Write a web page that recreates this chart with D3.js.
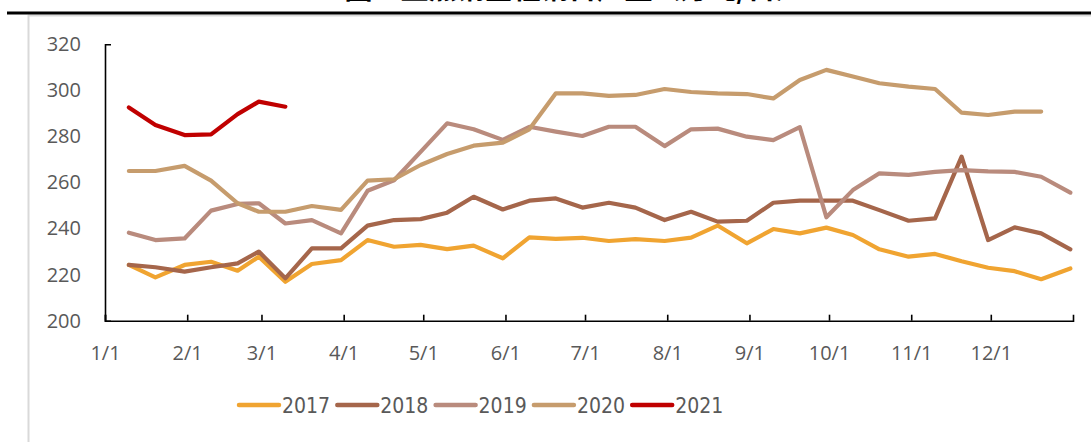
<!DOCTYPE html>
<html>
<head>
<meta charset="utf-8">
<script src="https://cdn.jsdelivr.net/npm/d3@7.9.0/dist/d3.min.js"></script>
<style>
  body { margin: 0; background: #fff; }
  svg { display: block; }
</style>
</head>
<body>
<div id="chart"></div>
<script>
// ten-day periods (旬) of the year
const periods = [
  '1/10', '1/20', '1/31', '2/10', '2/20', '2/28', '3/10', '3/20', '3/31',
  '4/10', '4/20', '4/30', '5/10', '5/20', '5/31', '6/10', '6/20', '6/30',
  '7/10', '7/20', '7/31', '8/10', '8/20', '8/31', '9/10', '9/20', '9/30',
  '10/10', '10/20', '10/31', '11/10', '11/20', '11/30', '12/10', '12/20', '12/31'
];

const years = ['2017', '2018', '2019', '2020', '2021'];
const colors = ['#F0A431', '#A5664B', '#B98B7D', '#C69C6D', '#C00000'];

const v2017 = [224.2, 218.8, 224.2, 225.6, 221.7, 227.8, 216.9, 224.6, 226.3,
  235.0, 232.1, 232.9, 231.1, 232.6, 227.1, 236.2, 235.5, 236.0,
  234.6, 235.4, 234.6, 236.1, 241.3, 233.6, 239.8, 237.9, 240.4,
  237.2, 231.0, 227.8, 229.0, 225.8, 223.0, 221.5, 218.0, 222.7];
const v2018 = [224.2, 223.2, 221.3, 223.2, 224.9, 230.0, 218.4, 231.4, 231.4,
  241.3, 243.7, 244.1, 246.9, 253.8, 248.3, 252.1, 253.1, 249.1,
  251.2, 249.1, 243.7, 247.3, 243.0, 243.4, 251.2, 252.1, 252.1,
  252.1, 248.0, 243.4, 244.4, 271.2, 235.0, 240.5, 237.9, 231.0];
const v2019 = [238.2, 235.0, 235.7, 247.8, 250.7, 251.0, 242.2, 243.7, 237.9,
  256.4, 261.0, 273.3, 285.7, 283.1, 278.5, 284.2, 282.1, 280.2,
  284.2, 284.2, 275.8, 283.1, 283.4, 279.9, 278.4, 284.0, 244.9,
  256.7, 264.0, 263.3, 264.6, 265.4, 264.8, 264.6, 262.5, 255.6];
const v2020 = [265.0, 265.0, 267.2, 260.8, 251.0, 247.3, 247.3, 249.8, 248.1,
  260.8, 261.4, 267.6, 272.4, 276.0, 277.3, 283.1, 298.7, 298.7,
  297.6, 298.0, 300.6, 299.3, 298.7, 298.4, 296.5, 304.5, 308.9,
  306.0, 303.1, 301.6, 300.6, 290.3, 289.3, 290.8, 290.8];
const v2021 = [292.6, 285.0, 280.6, 280.9, 289.7, 295.1, 292.9];

const yTicks = [200, 220, 240, 260, 280, 300, 320];
const monthTicks = ['1/1', '2/1', '3/1', '4/1', '5/1', '6/1', '7/1', '8/1', '9/1', '10/1', '11/1', '12/1'];

const title = '图：重点钢企粗钢日产量（万吨/日）';

// everything is placed on a common (non-leap) year
const toDate = (s) => {
  const [m, d] = s.split('/').map(Number);
  return new Date(2017, m - 1, d);
};

const seriesValues = [v2017, v2018, v2019, v2020, v2021];
const series = years.map((y, i) => ({
  year: y,
  color: colors[i],
  points: seriesValues[i].map((v, j) => ({ date: toDate(periods[j]), value: v })),
}));

const width = 1091;
const height = 442;

const svg = d3.select('#chart')
  .append('svg')
  .attr('width', width)
  .attr('height', height);

// frame + title (cut by the top edge, as in the source)
svg.append('text')
  .attr('x', 574)
  .attr('y', -1.2)
  .attr('text-anchor', 'middle')
  .attr('font-family', '"Noto Sans CJK SC", sans-serif')
  .attr('font-size', 28)
  .attr('font-weight', 'bold')
  .attr('fill', '#000')
  .text(title);

svg.append('line')
  .attr('x1', 28).attr('x2', width)
  .attr('y1', 15.5).attr('y2', 15.5)
  .attr('stroke', '#d9d9d9').attr('stroke-width', 2);
svg.append('line')
  .attr('x1', 28.5).attr('x2', 28.5)
  .attr('y1', 15).attr('y2', height)
  .attr('stroke', '#d9d9d9').attr('stroke-width', 2);
svg.append('line')
  .attr('x1', 7).attr('x2', width)
  .attr('y1', 13).attr('y2', 13)
  .attr('stroke', '#000').attr('stroke-width', 3);

// ----- Scales -----
const x = d3.scaleTime()
  .domain([new Date(2017, 0, 1), new Date(2018, 0, 1)])
  .range([105, 1073]);

const y = d3.scaleLinear()
  .domain([200, 320])
  .range([320.7, 44.3]);

// ----- Axes -----
const xAxis = d3.axisBottom(x)
  .tickValues(monthTicks.map(toDate))
  .tickSizeInner(-6)
  .tickSizeOuter(-6)
  .tickPadding(25)
  .tickFormat(d3.timeFormat('%-m/%-d'));

const yAxis = d3.axisLeft(y)
  .tickValues(yTicks)
  .tickSizeInner(0)
  .tickSizeOuter(-6)
  .tickPadding(24);

const gx = svg.append('g')
  .attr('transform', `translate(0,${y(200)})`)
  .call(xAxis);

const gy = svg.append('g')
  .attr('transform', `translate(${x(new Date(2017, 0, 1))},0)`)
  .call(yAxis);

[gx, gy].forEach((g) => {
  g.select('.domain').attr('stroke', '#000').attr('stroke-width', 1.6);
  g.selectAll('.tick line').attr('stroke', '#000').attr('stroke-width', 1.6);
  g.selectAll('.tick text')
    .attr('fill', '#595959')
    .attr('font-family', '"Open Sans", "Liberation Sans", sans-serif')
    .attr('font-size', 20);
});

// ----- Lines -----
const line = d3.line()
  .x((d) => x(d.date))
  .y((d) => y(d.value));

svg.append('g')
  .attr('class', 'lines')
  .selectAll('path')
  .data(series)
  .join('path')
  .attr('d', (d) => line(d.points))
  .attr('fill', 'none')
  .attr('stroke', (d) => d.color)
  .attr('stroke-width', 4.2)
  .attr('stroke-linejoin', 'round')
  .attr('stroke-linecap', 'round');

// ----- Legend -----
const legend = svg.append('g')
  .attr('class', 'legend')
  .attr('transform', 'translate(239,405)');

const item = legend.selectAll('g')
  .data(series)
  .join('g')
  .attr('transform', (d, i) => `translate(${i * 98.3},0)`);

item.append('line')
  .attr('x1', 0).attr('x2', 40)
  .attr('y1', 0).attr('y2', 0)
  .attr('stroke', (d) => d.color)
  .attr('stroke-width', 4.5)
  .attr('stroke-linecap', 'round');

item.append('text')
  .attr('x', 43)
  .attr('y', 7.5)
  .attr('fill', '#595959')
  .attr('font-family', '"Liberation Sans Narrow", "DejaVu Sans Condensed", sans-serif')
  .attr('font-size', 21)
  .text((d) => d.year);
</script>
</body>
</html>
